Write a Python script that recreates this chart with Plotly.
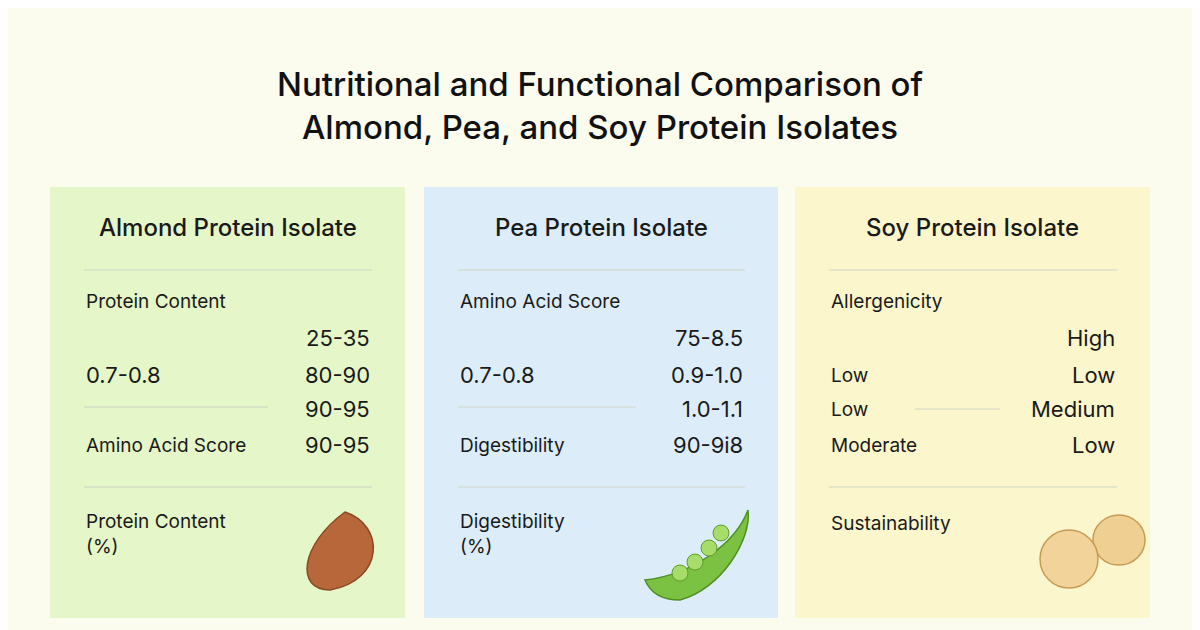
import plotly.graph_objects as go

title = "Nutritional and Functional Comparison of<br>Almond, Pea, and Soy Protein Isolates"
panels = ["Almond Protein Isolate", "Pea Protein Isolate", "Soy Protein Isolate"]
panel_colors = ["#e5f6c8", "#dcedf9", "#fbf6cc"]
panel_x = [(50, 405), (424, 778), (795, 1150)]

# row text per panel: (left label, right value)
first_labels = ["Protein Content", "Amino Acid Score", "Allergenicity"]
row1_right = ["25-35", "75-8.5", "High"]
row2_left = ["0.7-0.8", "0.7-0.8", "Low"]
row2_right = ["80-90", "0.9-1.0", "Low"]
row3_left = ["", "", "Low"]
row3_right = ["90-95", "1.0-1.1", "Medium"]
row4_left = ["Amino Acid Score", "Digestibility", "Moderate"]
row4_right = ["90-95", "90-9i8", "Low"]
bottom_labels = ["Protein Content<br>(%)", "Digestibility<br>(%)", "Sustainability"]

fig = go.Figure()
shapes = []
annots = [dict(x=600, y=105, text=title, showarrow=False,
               font=dict(size=33, color="#111111", family="Inter", weight=500))]

for i, (x0, x1) in enumerate(panel_x):
    shapes.append(dict(type="rect", x0=x0, x1=x1, y0=187, y1=618,
                       fillcolor=panel_colors[i], line=dict(width=0), layer="below"))
    lx, rx = x0 + 34, x1 - 33
    for y in (270, 487):
        shapes.append(dict(type="line", x0=lx, x1=rx, y0=y, y1=y,
                           line=dict(color="#d0d4c8", width=1)))
    annots.append(dict(x=(x0 + x1) / 2, y=227, text=panels[i], showarrow=False,
                       font=dict(size=24, color="#1a1a1a", weight=500)))
    left = [(301, first_labels[i]), (375, row2_left[i]), (409, row3_left[i]),
            (445, row4_left[i])]
    right = [(338, row1_right[i]), (375, row2_right[i]), (409, row3_right[i]),
             (445, row4_right[i])]
    for y, t in left:
        big = t and t[0].isdigit()
        annots.append(dict(x=lx, y=y, text=t, showarrow=False, xanchor="left",
                           font=dict(size=22 if big else 19, color="#1a1a1a")))
    for y, t in right:
        annots.append(dict(x=rx, y=y, text=t, showarrow=False, xanchor="right",
                           font=dict(size=22, color="#1a1a1a")))
    annots.append(dict(x=lx, y=523 if i == 2 else 534, text=bottom_labels[i],
                       showarrow=False, xanchor="left", align="left",
                       font=dict(size=19, color="#1a1a1a")))

# short separators in the middle rows
shapes.append(dict(type="line", x0=84, x1=268, y0=407, y1=407, line=dict(color="#d0d4c8", width=1)))
shapes.append(dict(type="line", x0=458, x1=636, y0=407, y1=407, line=dict(color="#d0d4c8", width=1)))
shapes.append(dict(type="line", x0=915, x1=1000, y0=409, y1=409, line=dict(color="#d0d4c8", width=1)))

# simple icons
shapes.append(dict(type="path", path="M 345 512 C 385 525, 385 580, 330 590 C 295 590, 300 545, 345 512 Z",
                   fillcolor="#b8673a", line=dict(color="#8a4a25", width=1.5)))
shapes.append(dict(type="path", path="M 645 580 C 690 575, 735 545, 748 510 C 752 540, 720 590, 680 600 C 660 600, 650 592, 645 580 Z",
                   fillcolor="#7cc242", line=dict(color="#4e8f22", width=1.5)))
for cx, cy in [(680, 573), (695, 562), (709, 548), (721, 533)]:
    shapes.append(dict(type="circle", x0=cx - 8, x1=cx + 8, y0=cy - 8, y1=cy + 8,
                       fillcolor="#a6dc6a", line=dict(color="#5e9e2c", width=1)))
shapes.append(dict(type="circle", x0=1093, x1=1145, y0=515, y1=565,
                   fillcolor="#f0cf92", line=dict(color="#c79a55", width=1.5)))
shapes.append(dict(type="circle", x0=1040, x1=1098, y0=530, y1=588,
                   fillcolor="#f2d49a", line=dict(color="#c79a55", width=1.5)))

# page body adds an 8px offset; shift the view to compensate
fig.update_layout(
    width=1200, height=630, margin=dict(l=0, r=0, t=0, b=0),
    paper_bgcolor="#fbfbee", plot_bgcolor="#fbfbee",
    xaxis=dict(range=[8, 1208], visible=False, fixedrange=True),
    yaxis=dict(range=[638, 8], visible=False, fixedrange=True),
    shapes=shapes, annotations=annots, showlegend=False,
    font=dict(family="Inter"),
)
fig.write_html("out.html")
